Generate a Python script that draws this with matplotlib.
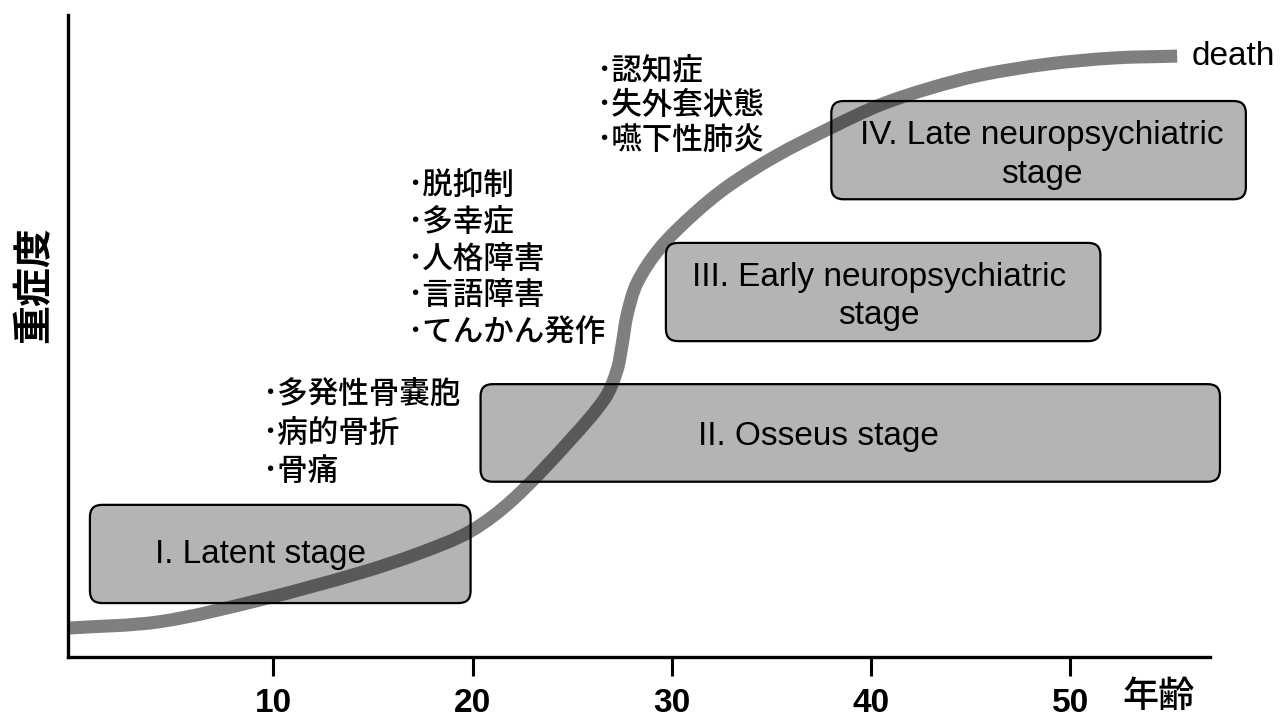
import matplotlib
matplotlib.use("Agg")
import matplotlib.pyplot as plt
import numpy as np
from matplotlib.patches import FancyBboxPatch, PathPatch
from matplotlib.path import Path

plt.rcParams['font.family'] = ['Liberation Sans', 'DejaVu Sans']
JP = ['Noto Sans CJK JP', 'DejaVu Sans']

# ---- data ----
curve_age = [-0.3, 4.3, 9.35, 14.35, 17.35, 19.9, 22.05, 24.9, 26.65, 27.25, 27.5, 27.75,
             28.25, 29.4, 31.1, 32.8, 35.2, 37.95, 40.45, 42.95, 45.5, 48.85, 52.15, 55.35]
curve_sev = [4.5, 5.5, 8.9, 13.1, 16.2, 19.6, 24.6, 33.8, 40.35, 44.7, 48.6, 53.25,
             58.25, 63.7, 69.0, 73.3, 78.0, 82.4, 86.0, 88.6, 90.65, 92.35, 93.3, 93.6]

stage_labels = ["I. Latent stage", "II. Osseus stage",
                "III. Early neuropsychiatric\nstage", "IV. Late neuropsychiatric\nstage"]
stage_start = [0.8, 20.4, 29.7, 38.0]
stage_end = [19.9, 57.5, 51.5, 58.8]
stage_low = [8.4, 27.3, 49.2, 71.3]
stage_high = [23.7, 42.5, 64.5, 86.6]
stage_text_x = [9.35, 37.35, 40.4, 48.55]
stage_text_y = [15.9, 34.3, 56.2, 78.2]

bone_symptoms = ['･多発性骨嚢胞', '･病的骨折', '･骨痛']
early_symptoms = ['･脱抑制', '･多幸症', '･人格障害', '･言語障害', '･てんかん発作']
late_symptoms = ['･認知症', '･失外套状態', '･嚥下性肺炎']

xticks = [10, 20, 30, 40, 50]

# ---- figure ----
W, H = 1280, 723
fig = plt.figure(figsize=(W / 100, H / 100), dpi=100)
ax = fig.add_axes([68 / W, (H - 657) / H, (1210 - 68) / W, (657 - 15) / H])
ax.set_xlim(-0.3, 57.0)
ax.set_ylim(0, 100)

for s in ['top', 'right']:
    ax.spines[s].set_visible(False)
for s in ['left', 'bottom']:
    ax.spines[s].set_linewidth(2.4)
    ax.spines[s].set_capstyle('projecting')
ax.set_yticks([])
ax.set_xticks(xticks)
ax.set_xticklabels([str(t) for t in xticks], fontsize=24, fontweight='bold',
                   family=['Liberation Sans Narrow', 'Liberation Sans'])
ax.tick_params(axis='x', direction='out', length=14, width=2.2, pad=8)

# aspect: px per unit x / px per unit y
px_x = (1210 - 68) / 57.3
px_y = (657 - 15) / 100
asp = px_x / px_y
r = 12 / px_x

for x0, x1, y0, y1 in zip(stage_start, stage_end, stage_low, stage_high):
    p = FancyBboxPatch((x0, y0), x1 - x0, y1 - y0,
                       boxstyle=f"round,pad=0,rounding_size={r}",
                       mutation_aspect=asp,
                       facecolor='#b4b4b4', edgecolor='black', linewidth=1.6,
                       clip_on=False, zorder=2)
    ax.add_patch(p)

# smooth curve through the points (chord-length Hermite as cubic Bezier segments)
P = np.column_stack([curve_age, curve_sev])
S = np.array([px_x, px_y])
d = np.linalg.norm(np.diff(P * S, axis=0), axis=1)
n = len(P)
T = np.zeros_like(P)
for i in range(n):
    if i == 0:
        T[i] = (P[1] - P[0]) / d[0]
    elif i == n - 1:
        T[i] = (P[-1] - P[-2]) / d[-1]
    else:
        T[i] = (P[i + 1] - P[i - 1]) / (d[i - 1] + d[i])
verts = [tuple(P[0])]
codes = [Path.MOVETO]
for i in range(n - 1):
    c1 = P[i] + T[i] * d[i] / 3
    c2 = P[i + 1] - T[i + 1] * d[i] / 3
    verts += [tuple(c1), tuple(c2), tuple(P[i + 1])]
    codes += [Path.CURVE4] * 3
curve = PathPatch(Path(verts, codes), facecolor='none', edgecolor='black',
                  alpha=0.5, linewidth=9.4, capstyle='butt', joinstyle='round',
                  clip_on=False, zorder=3)
ax.add_patch(curve)

for lab, tx, ty in zip(stage_labels, stage_text_x, stage_text_y):
    ax.text(tx, ty, lab, ha='center', va='center', fontsize=24,
            color='black', zorder=4, linespacing=1.3)

ax.text(56.1, 93.6, 'death', ha='left', va='center', fontsize=24, clip_on=False)

def put_list(lines, x, y_first, step):
    for i, t in enumerate(lines):
        ax.text(x, y_first - i * step, t, ha='left', va='center',
                fontsize=22, family=JP, fontweight='medium', zorder=4, clip_on=False)

put_list(bone_symptoms, 9.45, 40.7, 5.9)
put_list(early_symptoms, 16.7, 73.4, 5.7)
put_list(late_symptoms, 26.2, 91.4, 5.45)

fig.text(1158 / W, 1 - 697 / H, '年齢', ha='center', va='center',
         fontsize=26, family=JP, fontweight='medium')
fig.text(34 / W, 1 - 285 / H, '重症度', ha='center', va='center',
         fontsize=28, family=JP, fontweight='bold', rotation=90)

fig.savefig('out.png', dpi=100)
